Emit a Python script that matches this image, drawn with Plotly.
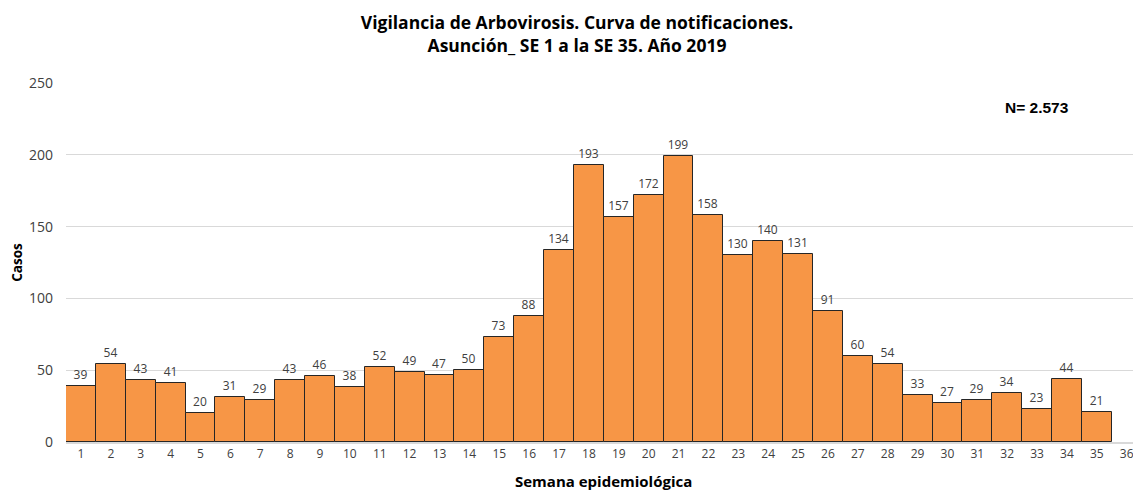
import plotly.graph_objects as go

weeks = [str(i) for i in range(1, 37)]
cases = [39, 54, 43, 41, 20, 31, 29, 43, 46, 38, 52, 49, 47, 50, 73, 88, 134, 193,
         157, 172, 199, 158, 130, 140, 131, 91, 60, 54, 33, 27, 29, 34, 23, 44, 21, None]
y_ticks = [0, 50, 100, 150, 200, 250]

fig = go.Figure(go.Bar(
    x=weeks, y=cases,
    marker=dict(color="#F79646", line=dict(color="#262626", width=1)),
    width=1.0,
    text=[str(v) if v is not None else "" for v in cases],
    textposition="outside",
    textfont=dict(family="Open Sans", size=12, color="#404040"),
    cliponaxis=False,
))

H = 483
W = 1125
fig.update_layout(
    width=W, height=H,
    margin=dict(l=58, r=0, t=75, b=49, autoexpand=False),
    paper_bgcolor="white", plot_bgcolor="white",
    bargap=0,
    showlegend=False,
    title=dict(
        text="Vigilancia de Arbovirosis. Curva de notificaciones.<br>Asunción_ SE 1 a la SE 35. Año 2019",
        x=(577 - 8) / W, xanchor="center", xref="container", yref="container", y=1 - 21 / H, yanchor="middle",
        font=dict(family="Open Sans", size=17.5, color="#000000", weight="bold"),
    ),
    xaxis=dict(
        type="category", categoryorder="array", categoryarray=weeks,
        range=[-0.5, 35.21], automargin=False,
        showgrid=False, showline=True, linecolor="#d9d9d9", linewidth=2,
        ticks="", tickfont=dict(family="Open Sans", size=12, color="#404040"),
    ),
    yaxis=dict(
        range=[0, 250], tickvals=y_ticks, automargin=False,
        showgrid=True, gridcolor="#d9d9d9", gridwidth=1,
        zeroline=False, ticks="", ticklabelstandoff=12,
        tickfont=dict(family="Open Sans", size=14, color="#404040"),
        title=dict(text="Casos", standoff=14,
                   font=dict(family="Open Sans", size=13.5, color="#000000", weight="bold")),
    ),
    annotations=[
        dict(text="N= 2.573", xref="paper", yref="paper", x=0.91, y=0.933,
             xanchor="center", yanchor="middle", showarrow=False,
             font=dict(family="Liberation Sans", size=15.5, color="#000000", weight="bold")),
        dict(text="Semana epidemiológica", xref="paper", yref="paper", x=0.5, y=0,
             xanchor="center", yanchor="middle", yshift=-39, xshift=4, showarrow=False,
             font=dict(family="Open Sans", size=15, color="#000000", weight="bold")),
    ],
)

fig.write_html("out.html")
